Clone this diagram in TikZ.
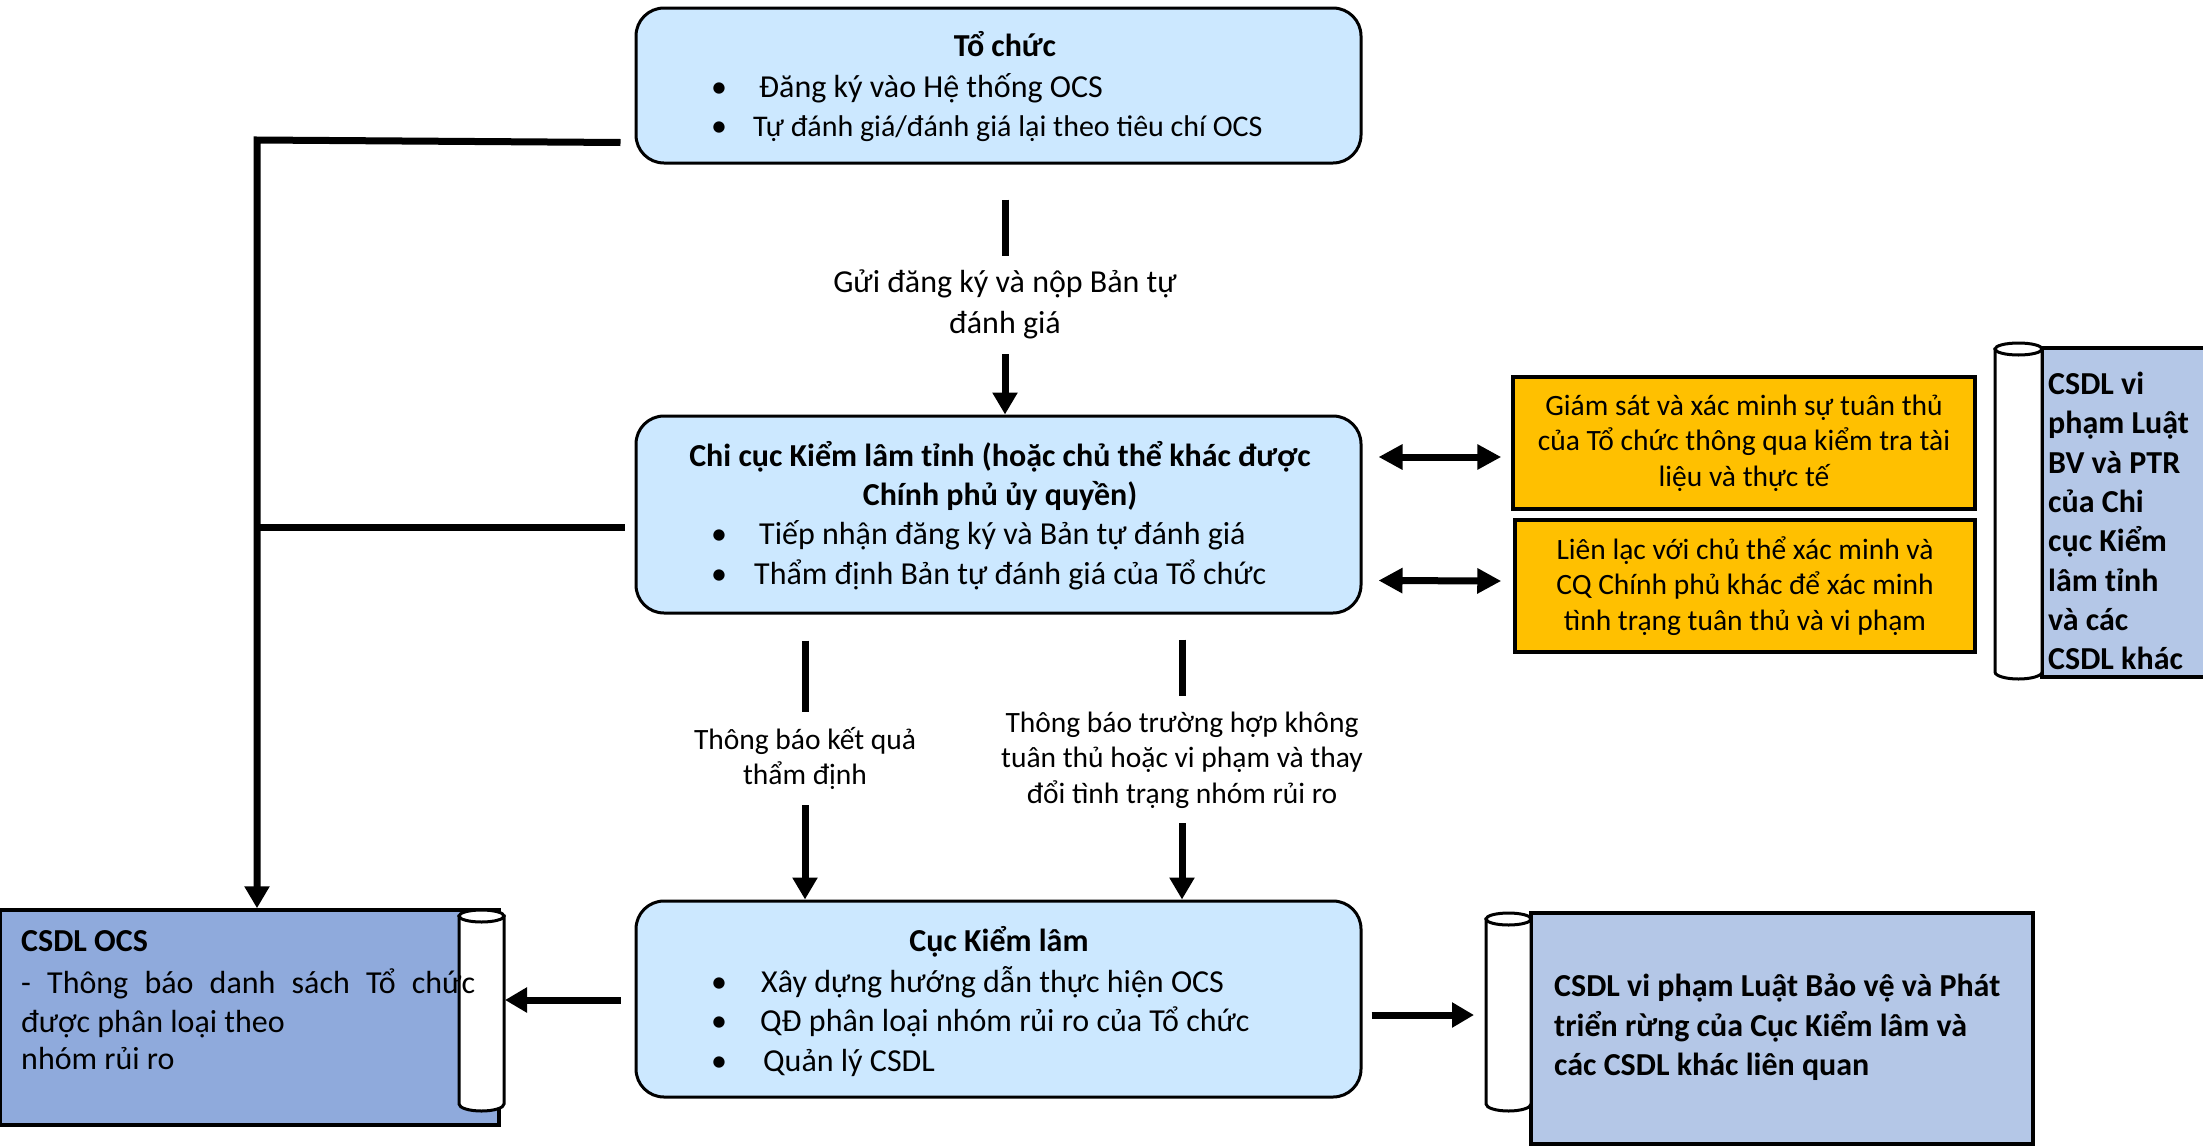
\documentclass[tikz,border=0pt]{standalone}
\usepackage{fontspec}
\setmainfont{Carlito}
\usetikzlibrary{arrows.meta,calc}
\definecolor{boxblue}{HTML}{CCE8FF}
\definecolor{orangeb}{HTML}{FFC000}
\definecolor{dbblue}{HTML}{B4C7E7}
\definecolor{ocsblue}{HTML}{8FAADC}
\begin{document}
\begin{tikzpicture}[x=1pt,y=-1pt,
  bluebox/.style={draw, line width=3pt, rounded corners=28pt, fill=boxblue, inner sep=0pt},
  orbox/.style={draw, line width=3.5pt, fill=orangeb, inner sep=0pt, align=center, font=\fontsize{29.5}{35.5}\selectfont},
  dbbody/.style={draw, line width=3.5pt, inner sep=0pt},
  rollst/.style={draw, line width=3pt, fill=white},
  txt/.style={font=\fontsize{32}{39.5}\selectfont, inner sep=0pt},
  stxt/.style={font=\fontsize{30}{39.5}\selectfont, inner sep=0pt},
  btxt/.style={font=\fontsize{32}{39.5}\selectfont\bfseries, inner sep=0pt},
  conn/.style={line width=7pt},
  arr/.style={conn, -{Triangle[length=22pt,width=24pt]}},
  darr/.style={conn, {Triangle[length=24pt,width=24pt]}-{Triangle[length=24pt,width=24pt]}},
  lbl/.style={fill=white, align=center, inner xsep=6pt, inner ysep=0pt},
]
\useasboundingbox (0,0) rectangle (2203,1146);

% ---------- main boxes ----------
\node[bluebox, minimum width=725, minimum height=155] (org) at (998.5,85.5) {};
\node[btxt, anchor=mid] (orgt) at (1005,54) {Tổ chức};
\node[txt, anchor=mid] (orgb1) at (719,95) {\textbullet};
\node[txt, anchor=mid] (orgb2) at (719,134) {\textbullet};
\node[txt, anchor=mid west] (orgl1) at (759,95) {Đăng ký vào Hệ thống OCS};
\node[stxt, anchor=mid west] (orgl2) at (753,134) {Tự đánh giá/đánh giá lại theo tiêu chí OCS};

\node[bluebox, minimum width=725, minimum height=197] (mid) at (998.5,514.5) {};
\node[btxt, anchor=mid] (midt1) at (1000,464) {Chi cục Kiểm lâm tỉnh (hoặc chủ thể khác được};
\node[btxt, anchor=mid] (midt2) at (1000,503) {Chính phủ ủy quyền)};
\node[txt, anchor=mid] (midb1) at (719,542) {\textbullet};
\node[txt, anchor=mid] (midb2) at (719,582) {\textbullet};
\node[txt, anchor=mid west] (midl1) at (759,542) {Tiếp nhận đăng ký và Bản tự đánh giá};
\node[txt, anchor=mid west] (midl2) at (754,582) {Thẩm định Bản tự đánh giá của Tổ chức};

\node[bluebox, minimum width=725, minimum height=196] (bot) at (998.5,999) {};
\node[btxt, anchor=mid] (bott) at (999,949) {Cục Kiểm lâm};
\node[txt, anchor=mid] (botb1) at (719,990) {\textbullet};
\node[txt, anchor=mid] (botb2) at (719,1029) {\textbullet};
\node[txt, anchor=mid] (botb3) at (719,1069) {\textbullet};
\node[txt, anchor=mid west] (botl1) at (761,990) {Xây dựng hướng dẫn thực hiện OCS};
\node[txt, anchor=mid west] (botl2) at (760,1029) {QĐ phân loại nhóm rủi ro của Tổ chức};
\node[txt, anchor=mid west] (botl3) at (763,1069) {Quản lý CSDL};

% ---------- orange boxes ----------
\node[orbox, minimum width=462, minimum height=132] (o1) at (1744,443)
  {\raisebox{-3pt}{\parbox{440pt}{\centering Giám sát và xác minh sự tuân thủ\\của Tổ chức thông qua kiểm tra tài\\liệu và thực tế}}};
\node[orbox, minimum width=460, minimum height=132] (o2) at (1745,586)
  {\raisebox{-2pt}{\parbox{440pt}{\centering Liên lạc với chủ thể xác minh và\\CQ Chính phủ khác để xác minh\\tình trạng tuân thủ và vi phạm}}};

% ---------- right scroll ----------
\node[dbbody, fill=dbblue, minimum width=172, minimum height=329] (dbr) at (2128,512.5) {};
\node[btxt, anchor=west, align=left, font=\fontsize{32}{39.3}\selectfont\bfseries] (dbrt) at (2048,521)
  {CSDL vi\\phạm Luật\\BV và PTR\\của Chi\\cục Kiểm\\lâm tỉnh\\và các\\CSDL khác};
\path[rollst] (1995,349) -- (1995,672) arc[start angle=180, end angle=360, x radius=23.5pt, y radius=7pt] -- (2042,349) -- cycle;
\draw[rollst] (2018.5,349) ellipse[x radius=23.5pt, y radius=6pt];

% ---------- bottom-right scroll ----------
\node[dbbody, fill=dbblue, minimum width=502, minimum height=231] (dbb) at (1782,1028.5) {};
\node[btxt, anchor=west, align=left] (dbbt) at (1554,1027.5)
  {CSDL vi phạm Luật Bảo vệ và Phát\\triển rừng của Cục Kiểm lâm và\\các CSDL khác liên quan};
\path[rollst] (1486,919) -- (1486,1104) arc[start angle=180, end angle=360, x radius=22.5pt, y radius=7pt] -- (1531,919) -- cycle;
\draw[rollst] (1508.5,919) ellipse[x radius=22.5pt, y radius=6pt];

% ---------- CSDL OCS scroll ----------
\node[dbbody, fill=ocsblue, minimum width=499, minimum height=215] (ocs) at (249.5,1017.5) {};
\path[rollst] (459,916) -- (459,1104) arc[start angle=180, end angle=360, x radius=22.5pt, y radius=7pt] -- (504,916) -- cycle;
\draw[rollst] (481.5,916) ellipse[x radius=22.5pt, y radius=6pt];
\node[btxt, anchor=mid west] (ocst) at (21,949) {CSDL OCS};
\node[txt, anchor=mid west] (ocsl1) at (21,991) {\hbox to 454pt{-\hfil Thông\hfil báo\hfil danh\hfil sách\hfil Tổ\hfil chức}};
\node[txt, anchor=mid west] (ocsl2) at (21,1030) {được phân loại theo};
\node[txt, anchor=mid west] (ocsl3) at (21,1067) {nhóm rủi ro};

% ---------- helper coordinates ----------
\coordinate (c1) at (1005,0);
\coordinate (c2) at (805,0);
\coordinate (c3) at (1182,0);
\coordinate (jt) at (257,140);
\coordinate (jb) at (257,527);
\coordinate (ocsr) at (505,1000);
\coordinate (dbbl) at (1474,1015);

% ---------- connectors ----------
\draw[arr, shorten <=35pt] (org.south -| c1) --
  node[lbl, pos=0.56, minimum height=98, font=\fontsize{32}{41}\selectfont] (lab1)
  {Gửi đăng ký và nộp Bản tự\\đánh giá} (mid.north -| c1);
\draw[arr, shorten <=26pt] (mid.south -| c2) --
  node[lbl, pos=0.505, minimum height=93, font=\fontsize{29.5}{35.5}\selectfont] (lab2)
  {Thông báo kết quả\\thẩm định} (bot.north -| c2);
\draw[arr, shorten <=25pt] (mid.south -| c3) --
  node[lbl, pos=0.51, minimum height=127, font=\fontsize{29.5}{35.5}\selectfont] (lab3)
  {Thông báo trường hợp không\\tuân thủ hoặc vi phạm và thay\\đổi tình trạng nhóm rủi ro} (bot.north -| c3);

\draw[arr] ($(org.south west)+(-14,-22)$) -- (jt) -- (ocs.north -| jt);
\draw[conn] ($(mid.west)+(-10,12.5)$) -- (jb);

\draw[arr] ($(bot.west)+(-14,1)$) -- (ocsr);
\draw[arr] ($(bot.east)+(9,16)$) -- (dbbl);

\draw[darr] ($(mid.east)+(16,-57.5)$) -- ($(o1.west)+(-10,14)$);
\draw[darr] ($(mid.east)+(16,66)$) -- ($(o2.west)+(-12,-5)$);
\end{tikzpicture}
\end{document}
